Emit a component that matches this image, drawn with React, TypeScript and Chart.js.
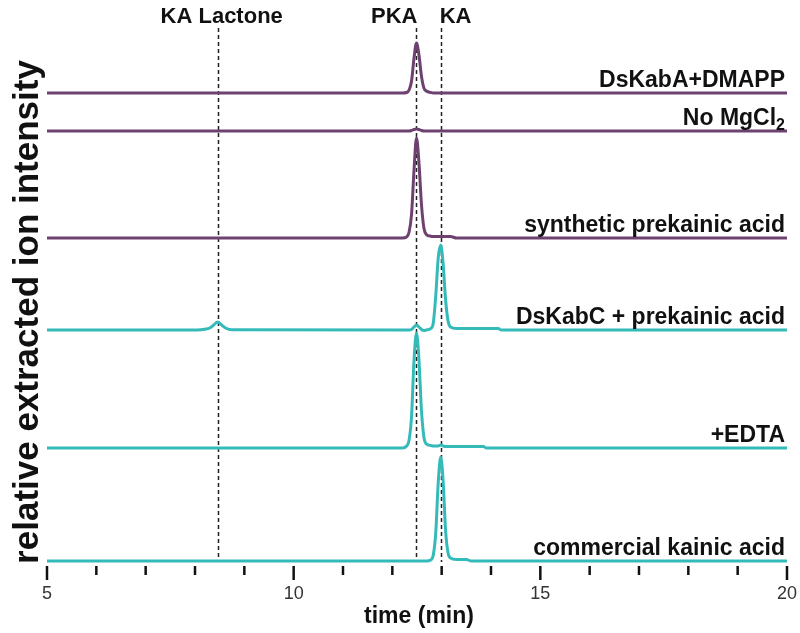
import React, { useEffect, useRef } from "react";
import { Chart, registerables } from "chart.js";

Chart.register(...registerables);

// retention times (min) at which each trace is sampled
const times = [
  5, 8.05, 8.2, 8.3, 8.38, 8.46, 8.54, 8.62, 8.75, 12.2, 12.29, 12.34, 12.39, 12.44,
  12.49, 12.54, 12.59, 12.64, 12.69, 12.78, 12.83, 12.88, 12.93, 12.98, 13.03, 13.08,
  13.13, 13.18, 13.3, 13.5, 13.6, 13.85, 13.9, 14.15, 14.2, 20,
];

// signal above each trace's own baseline
const dsKabADmapp = [
  0, 0, 0, 0, 0, 0, 0, 0, 0, 0, 0.5, 3, 12, 35, 50, 38, 17, 5, 2, 0.5,
  0, 0, 0, 0, 0, 0, 0, 0, 0, 0, 0, 0, 0, 0, 0, 0,
];
const noMgCl2 = [
  0, 0, 0, 0, 0, 0, 0, 0, 0, 0, 0, 0, 0.5, 1.5, 2, 1.5, 0.5, 0, 0, 0,
  0, 0, 0, 0, 0, 0, 0, 0, 0, 0, 0, 0, 0, 0, 0, 0,
];
const syntheticPka = [
  0, 0, 0, 0, 0, 0, 0, 0, 0, 0, 1, 6, 24, 68, 100, 75, 34, 10, 3.5, 1.8,
  1.5, 1.5, 1.5, 1.5, 1.5, 1.5, 1.5, 1.5, 0, 0, 0, 0, 0, 0, 0, 0,
];
const dsKabCPka = [
  0, 0, 0.8, 2, 5, 8, 5, 2, 0.3, 0, 0, 0, 0.5, 3, 5, 3, 0.5, -0.5, 0, 1.5,
  7, 34, 72, 85, 66, 30, 9, 3, 1.5, 1.5, 1.5, 1.5, 1.5, 1.5, 0, 0,
];
const edta = [
  0, 0, 0, 0, 0, 0, 0, 0, 0, 0, 2, 8, 32, 88, 115, 88, 38, 11, 4, 2.5,
  2, 2, 2, 3, 2, 1.5, 1.5, 1.5, 1.5, 1.5, 1.5, 1.5, 0, 0, 0, 0,
];
const commercialKa = [
  0, 0, 0, 0, 0, 0, 0, 0, 0, 0, 0, 0, 0, 0, 0, 0, 0, 0, 0, 1,
  6, 28, 78, 104, 80, 30, 8, 3, 1.5, 1.5, 0, 0, 0, 0, 0, 0,
];

const traceValues = [dsKabADmapp, noMgCl2, syntheticPka, dsKabCPka, edta, commercialKa];
const traceOffsets = [473, 435, 328, 236, 118, 5];
const traceLabels = ["DsKabA+DMAPP", "No MgCl", "synthetic prekainic acid", "DsKabC + prekainic acid", "+EDTA", "commercial kainic acid"];
const traceSubscripts = ["", "2", "", "", "", ""];
const traceColors = ["#6d4270", "#6d4270", "#6d4270", "#35baba", "#35baba", "#35baba"];

const markerTimes = [8.46, 12.48, 12.98];
const markerLabels = ["KA Lactone", "PKA", "KA"];
const markerAligns: CanvasTextAlign[] = ["center", "right", "left"];
const markerShift = [4, 1.5, -1];

const xTickStep = 1;
const xLabelEvery = 5;

const FONT = '"Liberation Sans", Arial, sans-serif';

const overlayPlugin = {
  id: "overlay",
  beforeDatasetsDraw(chart: any) {
    const { ctx, scales } = chart;
    const x = scales.x;
    ctx.save();
    ctx.strokeStyle = "#222";
    ctx.lineWidth = 1.5;
    ctx.setLineDash([4, 3]);
    markerTimes.forEach((t) => {
      const px = Math.round(x.getPixelForValue(t)) + 0.5;
      ctx.beginPath();
      ctx.moveTo(px, 28);
      ctx.lineTo(px, 562);
      ctx.stroke();
    });
    ctx.restore();
  },
  afterDraw(chart: any) {
    const { ctx, scales, chartArea } = chart;
    const x = scales.x;
    const y = scales.y;
    ctx.save();
    // tick marks
    ctx.strokeStyle = "#111";
    ctx.lineWidth = 2.5;
    x.ticks.forEach((tk: any) => {
      const px = x.getPixelForValue(tk.value);
      const len = tk.value % xLabelEvery === 0 ? 14 : 9;
      ctx.beginPath();
      ctx.moveTo(px, chartArea.bottom);
      ctx.lineTo(px, chartArea.bottom + len);
      ctx.stroke();
    });
    // marker labels
    ctx.fillStyle = "#111";
    ctx.font = `bold 22px ${FONT}`;
    ctx.textBaseline = "alphabetic";
    markerTimes.forEach((t, i) => {
      ctx.textAlign = markerAligns[i];
      ctx.fillText(markerLabels[i], x.getPixelForValue(t) + markerShift[i], 23);
    });
    // trace labels
    const right = chartArea.right - 2;
    traceLabels.forEach((lab, i) => {
      const by = y.getPixelForValue(traceOffsets[i]) - 6;
      ctx.font = `bold 23px ${FONT}`;
      let subW = 0;
      if (traceSubscripts[i]) {
        ctx.font = `bold 16px ${FONT}`;
        subW = ctx.measureText(traceSubscripts[i]).width;
        ctx.textAlign = "right";
        ctx.fillText(traceSubscripts[i], right, by + 5);
        ctx.font = `bold 23px ${FONT}`;
      }
      ctx.textAlign = "right";
      ctx.fillText(lab, right - subW, by);
    });
    // axis titles
    ctx.font = `bold 23px ${FONT}`;
    ctx.textAlign = "center";
    ctx.textBaseline = "alphabetic";
    ctx.fillText("time (min)", (chartArea.left + chartArea.right) / 2 + 2, 623);
    ctx.save();
    ctx.translate(38, 312);
    ctx.rotate(-Math.PI / 2);
    ctx.font = `bold 35px ${FONT}`;
    ctx.fillText("relative extracted ion intensity", 0, 0);
    ctx.restore();
    ctx.restore();
  },
};

export default function App() {
  const ref = useRef<HTMLCanvasElement>(null);
  useEffect(() => {
    if (!ref.current) return;
    const chart = new Chart(ref.current, {
      type: "line",
      data: {
        datasets: traceValues.map((vals, i) => ({
          label: traceLabels[i] + traceSubscripts[i],
          data: times.map((t, j) => ({ x: t, y: traceOffsets[i] + vals[j] })),
          borderColor: traceColors[i],
          borderWidth: 3,
          pointRadius: 0,
          cubicInterpolationMode: "monotone" as const,
          fill: false,
          clip: false as any,
        })),
      },
      options: {
        animation: false,
        responsive: true,
        maintainAspectRatio: false,
        layout: { padding: { left: 47, right: 12, top: 20, bottom: 0 } },
        plugins: { legend: { display: false }, tooltip: { enabled: false } },
        scales: {
          x: {
            type: "linear",
            min: 5,
            max: 20,
            afterFit: (s: any) => {
              s.height = 67;
            },
            border: { display: false },
            grid: { drawOnChartArea: false, color: "rgba(0,0,0,0)", tickLength: 14 },
            ticks: {
              stepSize: xTickStep,
              autoSkip: false,
              maxRotation: 0,
              padding: 3,
              color: "#333",
              font: { family: FONT, size: 18 },
              callback: (v: any) => (Number(v) % xLabelEvery === 0 ? String(v) : ""),
            },
          },
          y: { display: false, min: 0, max: 546 },
        },
      },
      plugins: [overlayPlugin],
    });
    return () => chart.destroy();
  }, []);
  return (
    <div style={{ position: "absolute", left: 0, top: 0, width: 800, height: 633, background: "#fff" }}>
      <canvas ref={ref} />
    </div>
  );
}
